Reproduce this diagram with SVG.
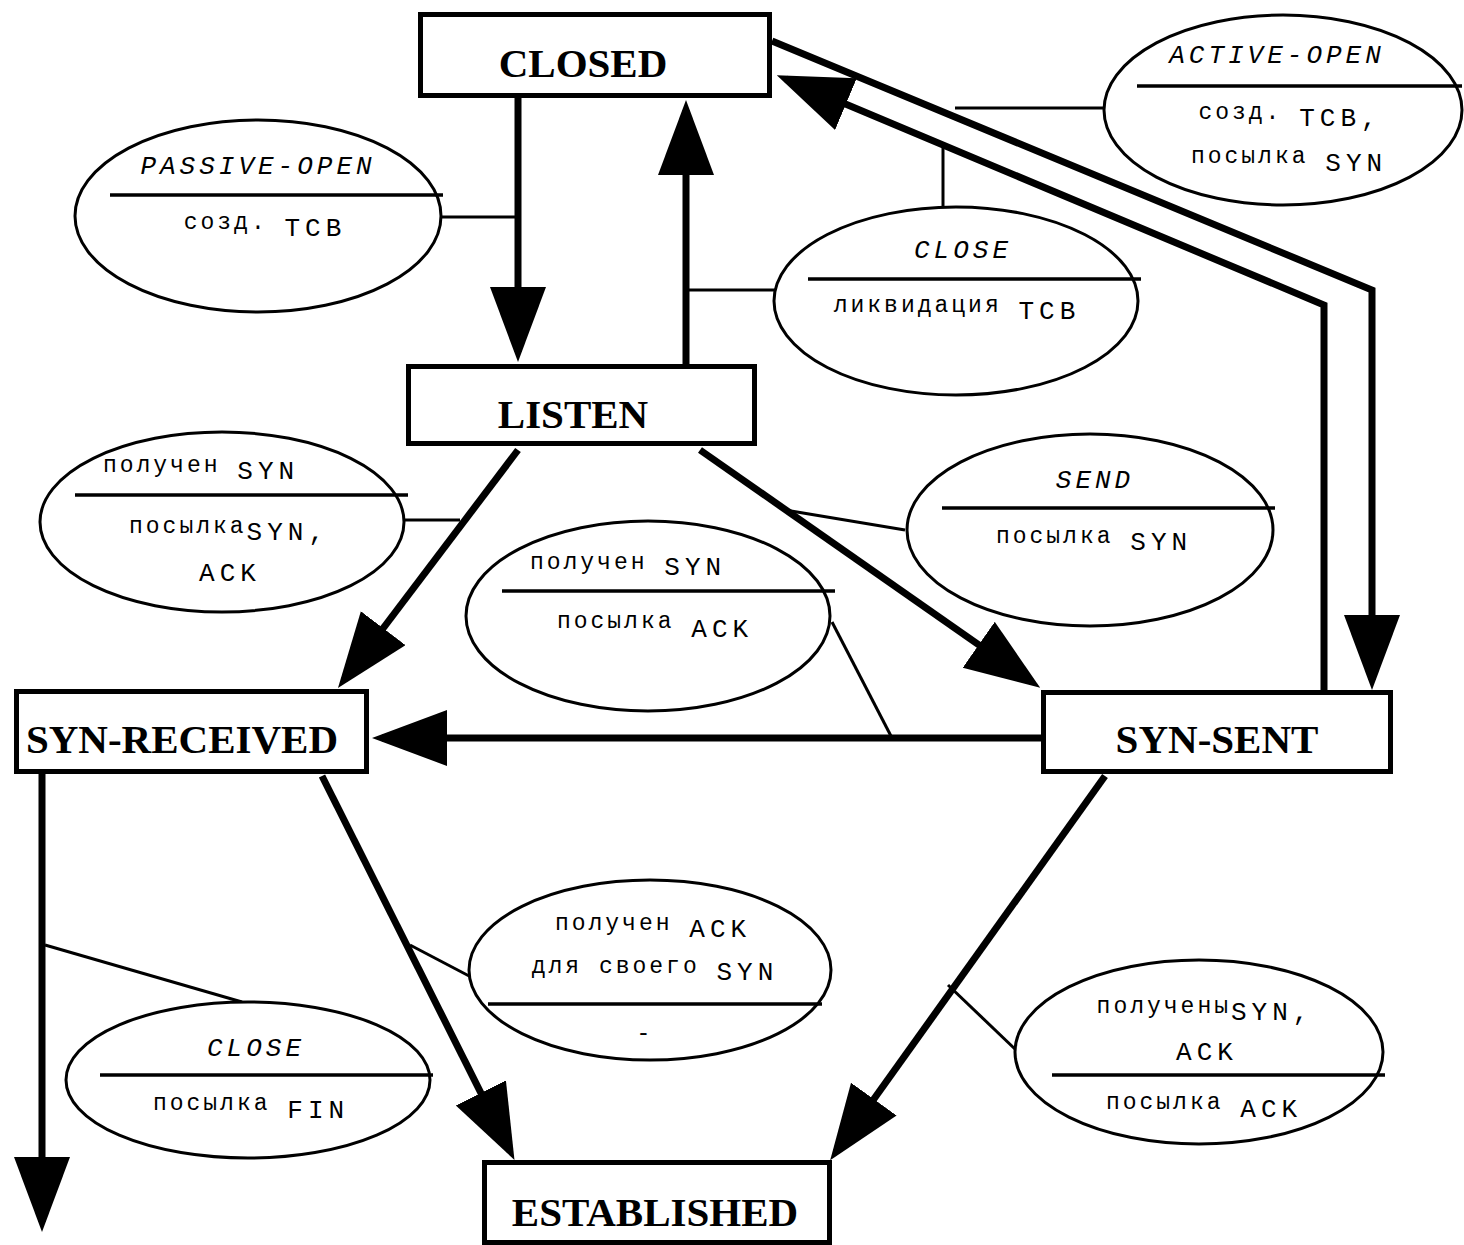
<svg xmlns="http://www.w3.org/2000/svg" width="1464" height="1245" viewBox="0 0 1464 1245">
<style>
.box{fill:#fff;stroke:#000;stroke-width:5}
.bt{font-family:"Liberation Serif",serif;font-weight:bold;font-size:41px;text-anchor:middle;fill:#000}
.el{fill:#fff;stroke:#000;stroke-width:3}
.dv{stroke:#000;stroke-width:3.5}
.arr{fill:none;stroke:#000;stroke-width:7;stroke-linejoin:miter}
.con{fill:none;stroke:#000;stroke-width:3}
.t{font-family:"Liberation Mono",monospace;text-anchor:middle;fill:#000}
.c{font-size:23px;letter-spacing:3px}
.l{font-size:26px;letter-spacing:5px}
.i{font-size:26px;letter-spacing:4px;font-style:italic}
</style>
<defs>
<marker id="ah" markerUnits="userSpaceOnUse" markerWidth="80" markerHeight="60" refX="65" refY="28" orient="auto" viewBox="0 0 80 60">
<path d="M0,0 L75,28 L0,56 Z" fill="#000"/>
</marker>
</defs>
<rect width="1464" height="1245" fill="#fff"/>

<g id="connectors">
<path class="arr" d="M518,98 L518,352" marker-end="url(#ah)"/>
<path class="arr" d="M686,364 L686,110" marker-end="url(#ah)"/>
<path class="arr" d="M772,41 L1372,290 L1372,680" marker-end="url(#ah)"/>
<path class="arr" d="M1324,690 L1324,305 L786,79" marker-end="url(#ah)"/>
<path class="arr" d="M518,450 L344,680" marker-end="url(#ah)"/>
<path class="arr" d="M700,450 L1032,682" marker-end="url(#ah)"/>
<path class="arr" d="M1041,738 L382,738" marker-end="url(#ah)"/>
<path class="arr" d="M322,776 L510,1151" marker-end="url(#ah)"/>
<path class="arr" d="M1105,776 L836,1152" marker-end="url(#ah)"/>
<path class="arr" d="M42,774 L42,1222" marker-end="url(#ah)"/>
<path class="con" d="M440,217 L518,217"/>
<path class="con" d="M955,108 L1104,108"/>
<path class="con" d="M943,147 L943,208"/>
<path class="con" d="M686,290 L775,290"/>
<path class="con" d="M403,520 L460,520"/>
<path class="con" d="M905,530 L785,510"/>
<path class="con" d="M832,622 L892,738"/>
<path class="con" d="M471,977 L410,945"/>
<path class="con" d="M1016,1050 L948,985"/>
<path class="con" d="M45,945 L242,1002"/>
</g>

<g id="closed"><rect class="box" x="420.5" y="14.5" width="349" height="81"/><text class="bt" x="583" y="77">CLOSED</text></g>
<g id="listen"><rect class="box" x="408.5" y="366.5" width="346" height="77"/><text class="bt" x="573" y="428">LISTEN</text></g>
<g id="syn-received"><rect class="box" x="16.5" y="691.5" width="350" height="80"/><text class="bt" x="182" y="753">SYN-RECEIVED</text></g>
<g id="syn-sent"><rect class="box" x="1043.5" y="692.5" width="347" height="79"/><text class="bt" x="1217" y="753">SYN-SENT</text></g>
<g id="established"><rect class="box" x="484.5" y="1162.5" width="345" height="80"/><text class="bt" x="655" y="1226">ESTABLISHED</text></g>

<g id="lbl-passive-open">
<ellipse class="el" cx="258" cy="216" rx="183" ry="96"/>
<line class="dv" x1="110" y1="195" x2="443" y2="195"/>
<text class="t i" x="258" y="174">PASSIVE-OPEN</text>
<text class="t" x="265" y="229"><tspan class="c">созд. </tspan><tspan class="l" dy="7">TCB</tspan></text>
</g>
<g id="lbl-active-open">
<ellipse class="el" cx="1283" cy="110" rx="179" ry="95"/>
<line class="dv" x1="1137" y1="86" x2="1462" y2="86"/>
<text class="t i" x="1277" y="63">ACTIVE-OPEN</text>
<text class="t" x="1290" y="119"><tspan class="c">созд. </tspan><tspan class="l" dy="7">TCB,</tspan></text>
<text class="t" x="1289" y="163"><tspan class="c">посылка </tspan><tspan class="l" dy="8">SYN</tspan></text>
</g>
<g id="lbl-close-tcb">
<ellipse class="el" cx="956" cy="301" rx="182" ry="94"/>
<line class="dv" x1="808" y1="279" x2="1141" y2="279"/>
<text class="t i" x="963" y="258">CLOSE</text>
<text class="t" x="957" y="312"><tspan class="c">ликвидация </tspan><tspan class="l" dy="7">TCB</tspan></text>
</g>
<g id="lbl-rcv-syn-left">
<ellipse class="el" cx="222" cy="522" rx="182" ry="90"/>
<line class="dv" x1="75" y1="495" x2="408" y2="495"/>
<text class="t" x="201" y="472"><tspan class="c">получен </tspan><tspan class="l" dy="7">SYN</tspan></text>
<text class="t" x="229" y="533"><tspan class="c">посылка</tspan><tspan class="l" dy="7">SYN,</tspan></text>
<text class="t l" x="230" y="581">ACK</text>
</g>
<g id="lbl-send">
<ellipse class="el" cx="1090" cy="530" rx="183" ry="96"/>
<line class="dv" x1="942" y1="508" x2="1275" y2="508"/>
<text class="t i" x="1095" y="488">SEND</text>
<text class="t" x="1094" y="543"><tspan class="c">посылка </tspan><tspan class="l" dy="7">SYN</tspan></text>
</g>
<g id="lbl-rcv-syn-mid">
<ellipse class="el" cx="648" cy="616" rx="182" ry="95"/>
<line class="dv" x1="502" y1="591" x2="835" y2="591"/>
<text class="t" x="628" y="569"><tspan class="c">получен </tspan><tspan class="l" dy="6">SYN</tspan></text>
<text class="t" x="655" y="628"><tspan class="c">посылка </tspan><tspan class="l" dy="9">ACK</tspan></text>
</g>
<g id="lbl-rcv-ack">
<ellipse class="el" cx="650" cy="970" rx="181" ry="90"/>
<line class="dv" x1="488" y1="1004" x2="822" y2="1004"/>
<text class="t" x="653" y="930"><tspan class="c">получен </tspan><tspan class="l" dy="7">ACK</tspan></text>
<text class="t" x="655" y="973"><tspan class="c">для своего </tspan><tspan class="l" dy="7">SYN</tspan></text>
<text class="t c" x="645" y="1040">-</text>
</g>
<g id="lbl-rcv-syn-ack">
<ellipse class="el" cx="1199" cy="1052" rx="184" ry="92"/>
<line class="dv" x1="1052" y1="1075" x2="1385" y2="1075"/>
<text class="t" x="1205" y="1013"><tspan class="c">получены</tspan><tspan class="l" dy="7">SYN,</tspan></text>
<text class="t l" x="1207" y="1060">ACK</text>
<text class="t" x="1204" y="1109"><tspan class="c">посылка </tspan><tspan class="l" dy="8">ACK</tspan></text>
</g>
<g id="lbl-close-fin">
<ellipse class="el" cx="248" cy="1080" rx="182" ry="78"/>
<line class="dv" x1="100" y1="1075" x2="433" y2="1075"/>
<text class="t i" x="256" y="1056">CLOSE</text>
<text class="t" x="251" y="1110"><tspan class="c">посылка </tspan><tspan class="l" dy="8">FIN</tspan></text>
</g>
</svg>
